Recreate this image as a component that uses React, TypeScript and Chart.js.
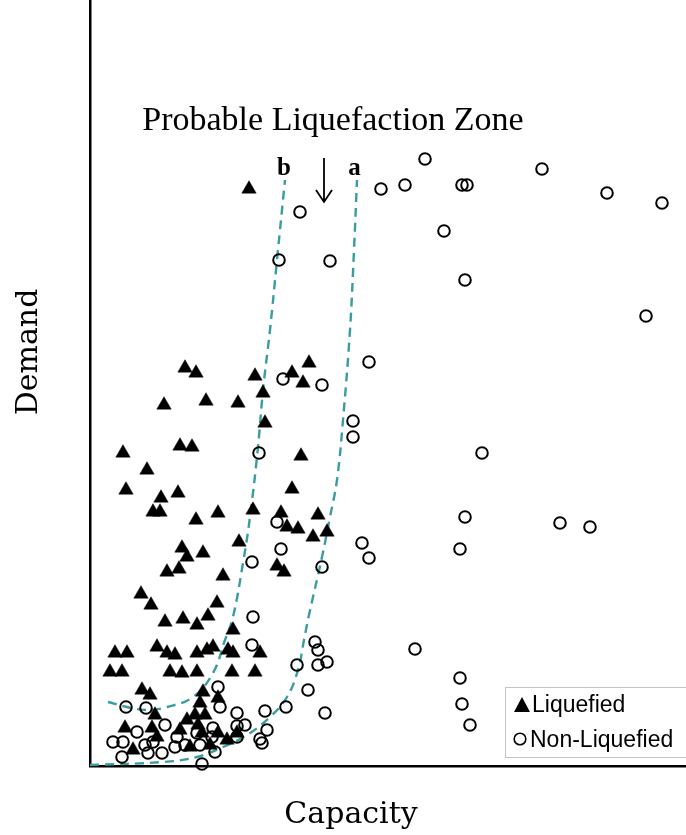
import React, { useEffect, useRef } from "react";
import { Chart, registerables } from "chart.js";

Chart.register(...registerables);

// ---- text ----
const X_TITLE = "Capacity";
const Y_TITLE = "Demand";
const ZONE_LABEL = "Probable Liquefaction Zone";
const CURVE_B_LABEL = "b";
const CURVE_A_LABEL = "a";
const SERIES_LIQ = "Liquefied";
const SERIES_NON = "Non-Liquefied";

// ---- axis ranges (arbitrary capacity / demand units) ----
const X_RANGE = [0, 596];
const Y_RANGE = [0, 766];

// ---- liquefied cases [capacity, demand] ----
const liquefied: [number, number][] = [
  [159, 577], [95, 398], [106, 393], [165, 390], [173, 373], [202, 393], [213, 383], [219, 403],
  [74, 361], [116, 365], [148, 363], [175, 343], [33, 313], [90, 320], [102, 319], [211, 310],
  [57, 296], [36, 276], [71, 268], [88, 273], [63, 254], [70, 254], [202, 277], [163, 256],
  [128, 253], [106, 246], [191, 253], [197, 239], [208, 237], [228, 251], [237, 234], [223, 229],
  [149, 224], [92, 218], [97, 209], [113, 213], [77, 194], [89, 197], [133, 190], [187, 200],
  [194, 194], [51, 172], [61, 161], [127, 163], [118, 150], [75, 144], [93, 147], [107, 141],
  [143, 136], [25, 113], [37, 113], [20, 94], [32, 94], [67, 119], [77, 113], [85, 111],
  [80, 94], [92, 93], [107, 113], [117, 116], [123, 119], [107, 94], [138, 116], [143, 113],
  [142, 94], [170, 113], [165, 94], [52, 76], [60, 71], [113, 74], [110, 63], [128, 68],
  [35, 38], [65, 51], [62, 38], [97, 46], [105, 51], [108, 41], [112, 33], [128, 33],
  [137, 26], [147, 33], [100, 19], [43, 16], [67, 29], [115, 51], [90, 36], [120, 21],
];

// ---- non-liquefied cases [capacity, demand] ----
const nonLiquefied: [number, number][] = [
  [335, 607], [291, 577], [315, 581], [372, 581], [377, 581], [452, 597], [517, 573], [572, 563],
  [210, 554], [354, 535], [189, 506], [240, 505], [375, 486], [556, 450], [279, 404], [193, 387],
  [232, 381], [263, 345], [263, 329], [169, 313], [392, 313], [187, 244], [375, 249], [470, 243],
  [500, 239], [272, 223], [279, 208], [191, 217], [162, 204], [370, 217], [232, 199], [163, 149],
  [325, 117], [162, 121], [225, 124], [228, 116], [237, 104], [228, 101], [207, 101], [218, 76],
  [235, 53], [196, 59], [175, 55], [370, 88], [372, 62], [380, 41], [147, 53], [147, 40],
  [128, 79], [130, 59], [36, 59], [56, 58], [177, 36], [170, 27], [172, 23], [112, 2],
  [23, 24], [33, 24], [32, 9], [47, 34], [55, 21], [58, 13], [72, 13], [63, 24],
  [75, 41], [87, 29], [85, 19], [107, 33], [110, 21], [122, 29], [125, 14], [123, 38],
  [155, 41], [147, 29], [95, 21],
];

// ---- boundary curves [capacity, demand] ----
const curveB: [number, number][] = [
  [18, 64], [37, 59], [57, 56], [77, 59], [103, 69], [123, 93], [135, 126], [143, 149],
  [153, 203], [160, 249], [168, 319], [173, 376], [180, 436], [187, 506], [195, 586],
];
const curveA: [number, number][] = [
  [0, 1], [73, 4], [107, 9], [133, 19], [157, 31], [180, 49], [197, 69], [208, 96],
  [214, 126], [219, 151], [232, 209], [240, 249], [247, 286], [253, 346], [260, 436],
  [264, 516], [267, 586],
];

const TEAL = "#3a9c9e";

const toXY = (arr: [number, number][]) => arr.map(([x, y]) => ({ x, y }));

const overlayPlugin = {
  id: "overlay",
  afterDatasetsDraw(chart: any) {
    const { ctx, chartArea, scales } = chart;
    const xs = scales.x;
    const ys = scales.y;
    const px = (v: number) => xs.getPixelForValue(v);
    const py = (v: number) => ys.getPixelForValue(v);
    ctx.save();
    ctx.fillStyle = "#000";
    ctx.strokeStyle = "#000";

    // zone label
    ctx.textAlign = "center";
    ctx.textBaseline = "alphabetic";
    ctx.font = '34px "Liberation Serif"';
    ctx.fillText(ZONE_LABEL, px(243), py(636));

    // curve labels
    ctx.font = 'bold 25px "Liberation Serif"';
    ctx.fillText(CURVE_B_LABEL, px(194), py(591));
    ctx.fillText(CURVE_A_LABEL, px(264.5), py(591));

    // arrow
    const ax = px(234);
    const aTop = py(608);
    const aTip = py(564);
    ctx.lineWidth = 1.8;
    ctx.beginPath();
    ctx.moveTo(ax, aTop);
    ctx.lineTo(ax, aTip);
    ctx.moveTo(ax - 8, aTip - 12);
    ctx.lineTo(ax, aTip);
    ctx.lineTo(ax + 8, aTip - 12);
    ctx.stroke();

    // legend
    const lx = chartArea.right - 181;
    const ly = chartArea.bottom - 79;
    ctx.lineWidth = 1;
    ctx.strokeStyle = "#c4c4c4";
    ctx.strokeRect(lx + 0.5, ly + 0.5, 200, 70);
    ctx.fillStyle = "#000";
    ctx.strokeStyle = "#000";
    ctx.beginPath();
    ctx.moveTo(lx + 17, ly + 10);
    ctx.lineTo(lx + 25, ly + 25);
    ctx.lineTo(lx + 9, ly + 25);
    ctx.closePath();
    ctx.fill();
    ctx.lineWidth = 1.6;
    ctx.beginPath();
    ctx.arc(lx + 15, ly + 52, 5.8, 0, Math.PI * 2);
    ctx.stroke();
    ctx.textAlign = "left";
    ctx.font = '23px "Liberation Sans"';
    ctx.fillText(SERIES_LIQ, lx + 27, ly + 25);
    ctx.fillText(SERIES_NON, lx + 25, ly + 60);

    // axis titles
    ctx.font = '30px "DejaVu Serif"';
    ctx.textAlign = "center";
    ctx.fillText(X_TITLE, chartArea.left + 261, chartArea.bottom + 57);
    ctx.save();
    ctx.translate(chartArea.left - 53, chartArea.top + 352);
    ctx.rotate(-Math.PI / 2);
    ctx.fillText(Y_TITLE, 0, 0);
    ctx.restore();

    ctx.restore();
  },
};

export default function App() {
  const ref = useRef<HTMLCanvasElement | null>(null);
  useEffect(() => {
    if (!ref.current) return;
    const chart = new Chart(ref.current, {
      type: "scatter",
      data: {
        datasets: [
          {
            label: SERIES_NON,
            data: toXY(nonLiquefied),
            pointStyle: "circle",
            pointRadius: 5.8,
            pointBorderWidth: 2,
            borderColor: "#000",
            backgroundColor: "rgba(0,0,0,0)",
            order: 1,
            clip: false,
          } as any,
          {
            label: SERIES_LIQ,
            data: toXY(liquefied),
            pointStyle: "triangle",
            pointRadius: 8.3,
            pointBorderWidth: 0.5,
            borderColor: "#000",
            backgroundColor: "#000",
            order: 2,
            clip: false,
          } as any,
          {
            type: "line",
            label: CURVE_B_LABEL,
            data: toXY(curveB),
            borderColor: TEAL,
            borderWidth: 2.4,
            borderDash: [9, 6],
            pointRadius: 0,
            tension: 0.4,
            fill: false,
            showLine: true,
            order: 3,
            clip: false,
          } as any,
          {
            type: "line",
            label: CURVE_A_LABEL,
            data: toXY(curveA),
            borderColor: TEAL,
            borderWidth: 2.4,
            borderDash: [9, 6],
            pointRadius: 0,
            tension: 0.4,
            fill: false,
            showLine: true,
            order: 3,
            clip: false,
          } as any,
        ],
      },
      options: {
        responsive: false,
        animation: false,
        devicePixelRatio: 1,
        layout: { padding: 0, autoPadding: false },
        plugins: {
          legend: { display: false },
          tooltip: { enabled: false },
          title: { display: false },
        },
        scales: {
          x: {
            type: "linear",
            min: X_RANGE[0],
            max: X_RANGE[1],
            grid: { display: false },
            ticks: { display: false },
            border: { display: true, color: "#000", width: 2.5 },
            afterFit: (s: any) => {
              s.height = 69;
            },
          },
          y: {
            type: "linear",
            min: Y_RANGE[0],
            max: Y_RANGE[1],
            grid: { display: false },
            ticks: { display: false },
            border: { display: true, color: "#000", width: 2.5 },
            afterFit: (s: any) => {
              s.width = 90;
            },
          },
        },
      } as any,
      plugins: [overlayPlugin],
    });
    return () => chart.destroy();
  }, []);
  return (
    <div style={{ position: "fixed", left: 0, top: 0, width: 686, height: 835, background: "#fff" }}>
      <canvas ref={ref} width={686} height={835} />
    </div>
  );
}
